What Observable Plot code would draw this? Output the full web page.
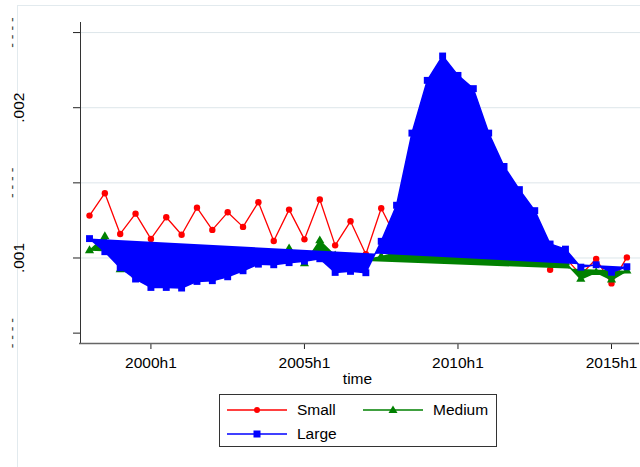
<!DOCTYPE html>
<html>
<head>
<meta charset="utf-8">
<script src="https://cdn.jsdelivr.net/npm/d3@7"></script>
<script src="https://cdn.jsdelivr.net/npm/@observablehq/plot@0.6"></script>
<style>
  body { margin: 0; background: #fff; font-family: "Liberation Sans", Arial, sans-serif; }
  #wrap { position: relative; width: 640px; height: 467px; overflow: hidden; background: #fff; }
  #frame { position: absolute; left: 17px; top: 5px; width: 700px; height: 600px; border: 1px solid #e2eaee; }
  #chart { position: absolute; left: 0; top: 0; }
  #legend { position: absolute; left: 219px; top: 394px; width: 278px; height: 53px;
            border: 1px solid #333; box-sizing: border-box; background: #fff; }
  .item { position: absolute; display: flex; align-items: center; height: 16px;
          font-size: 15.5px; color: #000; white-space: nowrap; }
  .item svg { display: block; margin-right: 10px; }
</style>
</head>
<body>
<div id="wrap">
  <div id="frame"></div>
  <div id="chart"></div>
  <div id="legend"></div>
</div>
<script>
// Half-year periods on the time axis
const periods = [
  "1998h1","1998h2","1999h1","1999h2","2000h1","2000h2","2001h1","2001h2","2002h1","2002h2",
  "2003h1","2003h2","2004h1","2004h2","2005h1","2005h2","2006h1","2006h2","2007h1","2007h2",
  "2008h1","2008h2","2009h1","2009h2","2010h1","2010h2","2011h1","2011h2","2012h1","2012h2",
  "2013h1","2013h2","2014h1","2014h2","2015h1","2015h2"
];

// Series values by firm size
const small = [
  0.001282,0.001431,0.001160,0.001295,0.001127,0.001271,0.001155,0.001335,0.001187,0.001304,
  0.001207,0.001371,0.001113,0.001322,0.001124,0.001389,0.001084,0.001244,0.001025,0.001331,
  0.001129,0.001315,0.001149,0.001349,0.001169,0.001302,0.001142,0.001282,0.001115,0.001215,
  0.000922,0.000999,0.000889,0.000993,0.000831,0.001004
];
const medium = [
  0.001049,0.001142,0.000922,0.000889,0.000849,0.000835,0.000842,0.000875,0.000889,0.000915,
  0.000942,0.000982,0.000975,0.001062,0.000962,0.001115,0.001015,0.001002,0.000989,0.001009,
  0.001035,0.001049,0.001062,0.001069,0.001049,0.001035,0.001022,0.001015,0.001009,0.000995,
  0.000982,0.000969,0.000860,0.000904,0.000855,0.000915
];
const large = [
  0.001129,0.001042,0.000935,0.000860,0.000804,0.000804,0.000800,0.000844,0.000849,0.000875,
  0.000915,0.000959,0.000955,0.000969,0.000979,0.000995,0.000904,0.000911,0.000902,0.001111,
  0.001351,0.001831,0.002182,0.002344,0.002215,0.002127,0.001831,0.001609,0.001455,0.001315,
  0.001093,0.001059,0.000939,0.000955,0.000905,0.000942
];

// Axis ticks and labels
const xTickLabels = ["2000h1", "2005h1", "2010h1", "2015h1"];
const yTicks = [0.0005, 0.001, 0.0015, 0.002, 0.0025];
const yLabelled = [0.001, 0.002];
const yUnlabelled = [0.0005, 0.0015, 0.0025];
const yGrid = [0.001, 0.0015, 0.002, 0.0025];

const seriesNames = ["Small", "Medium", "Large"];
const seriesColors = ["#ff0000", "#008000", "#0000ff"];

const toYear = p => +p.slice(0, 4) + (p.endsWith("h2") ? 0.5 : 0);
const rows = vals => periods.map((p, i) => ({t: toYear(p), v: vals[i]}));
const fmtY = d => d3.format(".3f")(d).replace(/^0/, "");

const xDomain = [1997.707, 2015.944];
const yDomain = [0.000431, 0.002567];

const chart = Plot.plot({
  width: 640,
  height: 390,
  marginLeft: 80,
  marginRight: 0,
  marginTop: 22,
  marginBottom: 47,
  x: {domain: xDomain},
  y: {domain: yDomain},
  style: {
    fontFamily: '"Liberation Sans", Arial, sans-serif',
    fontSize: "15.5px",
    color: "#000",
    background: "transparent",
    overflow: "visible"
  },
  marks: [
    Plot.gridY(yGrid, {stroke: "#dde6ea", strokeOpacity: 1, strokeWidth: 1}),
    // y axis: ticks, rotated labels
    Plot.axisY(yTicks, {tickSize: 7, tickFormat: () => "", stroke: "#222", label: null}),
    Plot.text(yLabelled, {
      y: d => d, text: fmtY, frameAnchor: "left", rotate: -90, dx: -61,
      textAnchor: "middle", lineAnchor: "middle", fill: "#000"
    }),
    Plot.text(yUnlabelled, {
      y: d => d, text: () => "- - - -", frameAnchor: "left", rotate: -90, dx: -68,
      textAnchor: "middle", lineAnchor: "middle", fill: "#444", fontSize: 14
    }),
    Plot.ruleX([xDomain[0]], {stroke: "#333", strokeWidth: 1}),
    // x axis
    Plot.axisX(xTickLabels.map(toYear), {
      tickSize: 6, tickPadding: 7, tickFormat: d => `${d}h1`, stroke: "#222", label: null
    }),
    Plot.ruleY([yDomain[0]], {stroke: "#666", strokeWidth: 1.6, dx: -1}),
    Plot.text(["time"], {text: d => d, frameAnchor: "bottom", dy: 40, dx: -3, lineAnchor: "bottom", fill: "#000"}),
    // Small
    Plot.line(rows(small), {x: "t", y: "v", stroke: seriesColors[0], strokeWidth: 1.3}),
    Plot.dot(rows(small), {x: "t", y: "v", r: 3.2, symbol: "circle", fill: seriesColors[0], stroke: "none"}),
    // Medium (connected path filled to its closing chord)
    Plot.line(rows(medium), {x: "t", y: "v", stroke: seriesColors[1], fill: seriesColors[1], strokeWidth: 1.5, strokeLinejoin: "miter"}),
    Plot.dot(rows(medium), {x: "t", y: "v", r: 3.4, symbol: "triangle", fill: seriesColors[1], stroke: "none"}),
    // Large (connected path filled to its closing chord)
    Plot.line(rows(large), {x: "t", y: "v", stroke: seriesColors[2], fill: seriesColors[2], strokeWidth: 1.5, strokeLinejoin: "miter"}),
    Plot.dot(rows(large), {x: "t", y: "v", r: 3.9, symbol: "square", fill: seriesColors[2], stroke: "none"})
  ]
});
document.getElementById("chart").appendChild(chart);

// Legend
const legendPos = [
  {left: 7, top: 7},
  {left: 143, top: 7},
  {left: 7, top: 31}
];
const markerSvg = (i, color) => {
  const m = i === 0 ? `<circle cx="30" cy="6" r="3" fill="${color}"/>`
    : i === 1 ? `<path d="M30,1.5 L34.5,9 L25.5,9 Z" fill="${color}"/>`
    : `<rect x="26.5" y="2.5" width="7" height="7" fill="${color}"/>`;
  return `<svg width="60" height="12"><line x1="0" x2="60" y1="6" y2="6" stroke="${color}" stroke-width="1.3"/>${m}</svg>`;
};
const legend = document.getElementById("legend");
seriesNames.forEach((name, i) => {
  const div = document.createElement("div");
  div.className = "item";
  div.style.left = legendPos[i].left + "px";
  div.style.top = legendPos[i].top + "px";
  div.innerHTML = markerSvg(i, seriesColors[i]) + `<span>${name}</span>`;
  legend.appendChild(div);
});
</script>
</body>
</html>
